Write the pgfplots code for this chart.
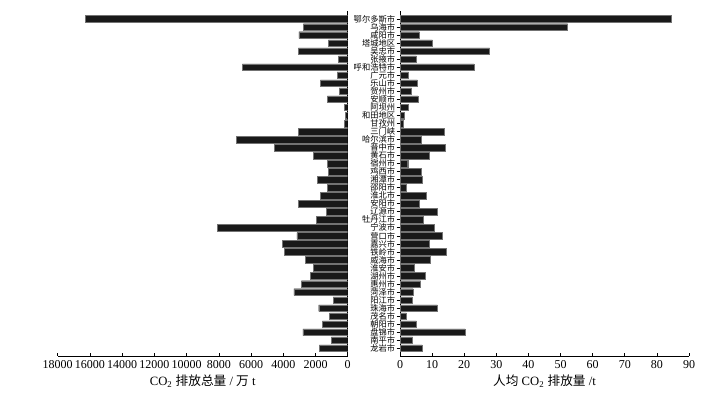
\documentclass[border=0pt]{standalone}
\usepackage{fontspec}
\setmainfont{Liberation Serif}
\newfontfamily\cjk{Noto Sans CJK SC}
\usepackage{pgfplots}
\usepackage{pgfplotstable}
\pgfplotsset{compat=1.18}

% y: 41 = top row ... 0 = bottom row; total in 10^4 t, pc in t per capita
\pgfplotstableread{
y total pc
41 16300 84.4
40 2750 52.2
39 3040 6.0
38 1200 10.1
37 3060 27.9
36 580 5.1
35 6540 23.0
34 660 2.7
33 1700 5.4
32 540 3.6
31 1260 5.6
30 210 2.7
29 145 1.4
28 190 1.0
27 3060 13.9
26 6930 6.5
25 4570 14.2
24 2150 9.1
23 1260 2.4
22 1200 6.6
21 1880 7.0
20 1260 1.9
19 1700 8.2
18 3060 6.1
17 1320 11.5
16 1950 7.2
15 8090 10.7
14 3150 13.2
13 4060 9.1
12 3930 14.5
11 2610 9.4
10 2150 4.5
9 2300 8.0
8 2880 6.4
7 3350 4.1
6 910 3.8
5 1800 11.6
4 1120 2.0
3 1570 5.1
2 2790 20.3
1 1010 3.9
0 1760 6.9
}\data

\pgfplotsset{
    common/.style={
        scale only axis,
        anchor=south west,
        height=258.75pt,
        xbar,
        bar width=5pt,
        ymin=-0.96, ymax=42,
        axis line style={line width=0.6pt},
        tick style={black, line width=0.5pt},
        xtick align=inside,
        major tick length=2.5pt,
        scaled x ticks=false,
        /pgf/number format/assume math mode=true,
        /pgf/number format/1000 sep={},
        tick label style={font=\fontsize{9}{10}\selectfont},
        label style={font=\fontsize{9.5}{10}\selectfont},
        xlabel style={yshift=2pt},
    },
    barstyle/.style={fill=black!90, draw=black!55, line width=0.3pt}
}

\begin{document}
\begin{tikzpicture}
\useasboundingbox (0,0) rectangle (540pt,302.25pt);

% left: total emissions, axis reversed
\begin{axis}[common,
    at={(43.3pt,35.25pt)},
    width=217.5pt,
    x dir=reverse,
    xmin=0, xmax=18000,
    xtick={0,2000,...,18000},
    ytick=\empty,
    axis x line*=bottom,
    axis y line*=right,
    xlabel={CO\textsubscript{2} {\cjk 排放总量} / {\cjk 万} t},
]
\addplot[barstyle] table[x=total, y=y] {\data};
\end{axis}

% right: per capita emissions
\begin{axis}[common,
    at={(300pt,35.25pt)},
    width=216.75pt,
    xmin=0, xmax=90,
    xtick={0,10,...,90},
    ytick={0,...,41},
    ytick align=outside,
    yticklabels={龙岩市,南平市,盘锦市,朝阳市,茂名市,珠海市,阳江市,菏泽市,惠州市,湖州市,淮安市,威海市,铁岭市,嘉兴市,营口市,宁波市,牡丹江市,辽源市,安阳市,淮北市,邵阳市,湘潭市,鸡西市,宿州市,黄石市,晋中市,哈尔滨市,三门峡,甘孜州,和田地区,阿坝州,安顺市,贺州市,乐山市,广元市,呼和浩特市,张掖市,吴忠市,塔城地区,咸阳市,乌海市,鄂尔多斯市},
    yticklabel style={font=\cjk\fontsize{6.2}{6.2}\selectfont, inner xsep=1pt},
    axis x line*=bottom,
    axis y line*=left,
    xlabel={{\cjk 人均} CO\textsubscript{2} {\cjk 排放量} /t},
]
\addplot[barstyle] table[x=pc, y=y] {\data};
\end{axis}
\end{tikzpicture}
\end{document}
